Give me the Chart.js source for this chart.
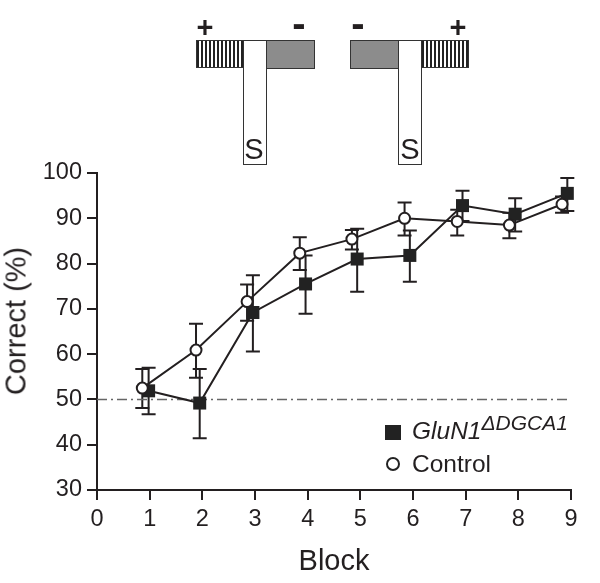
<!DOCTYPE html>
<html>
<head>
<meta charset="utf-8">
<script src="https://cdn.jsdelivr.net/npm/chart.js@4"></script>
<style>
  html, body { margin: 0; padding: 0; background: #fff; }
  #wrap { position: relative; width: 600px; height: 583px; overflow: hidden; font-family: "Liberation Sans", Arial, sans-serif; color: #231f20; }
  canvas { position: absolute; left: 0; top: 0; }
  .box { position: absolute; box-sizing: border-box; border: 1px solid #333; }
  .stripe { top: 40px; height: 28px; width: 48px; background: repeating-linear-gradient(90deg, #222 0, #222 2px, #fff 2px, #fff 4px); }
  .grey { top: 40px; height: 29px; width: 49px; background: #8c8c8c; }
  .arm { top: 40px; height: 125px; width: 24px; background: #fff; }
  .t { position: absolute; white-space: nowrap; line-height: 1; will-change: transform; }
  .plus { font-weight: bold; font-size: 29px; transform: translate(-50%, -50%); }
  .minus { font-weight: bold; font-size: 40px; transform: translate(-50%, -50%); }
  .s { font-size: 29px; transform: translate(-50%, -50%); }
  .leg { font-size: 24.5px; left: 412px; }
  sup { font-size: 21px; line-height: 0; vertical-align: 9px; }
  #ytitle { font-size: 29px; left: 16px; top: 321px; transform: translate(-50%, -50%) rotate(-90deg); }
</style>
</head>
<body>
<div id="wrap">
  <canvas id="chart" width="600" height="583"></canvas>

  <div class="box stripe" style="left:196px"></div>
  <div class="box grey" style="left:266px"></div>
  <div class="box arm" style="left:243px"></div>
  <div class="t s" style="left:254px;top:149px">S</div>
  <div class="t plus" style="left:205px;top:27px">+</div>
  <div class="t minus" style="left:299px;top:23px">-</div>

  <div class="box grey" style="left:350px"></div>
  <div class="box stripe" style="left:421px"></div>
  <div class="box arm" style="left:398px"></div>
  <div class="t s" style="left:410px;top:149px">S</div>
  <div class="t minus" style="left:358px;top:23px">-</div>
  <div class="t plus" style="left:458px;top:27px">+</div>

  <div style="position:absolute;left:385px;top:425px;width:16px;height:15px;background:#222"></div>
  <div style="position:absolute;left:386px;top:457px;width:14px;height:14px;box-sizing:border-box;border:2px solid #222;border-radius:50%;background:#fff"></div>
  <div class="t leg" style="top:419px"><i>GluN1<sup>ΔDGCA1</sup></i></div>
  <div class="t leg" style="top:452px">Control</div>
  <div class="t" id="ytitle">Correct (%)</div>
</div>

<script>
const knockoutX = [0.98, 1.95, 2.96, 3.96, 4.94, 5.94, 6.94, 7.94, 8.93];
const knockoutY = [51.9, 49.2, 69.2, 75.5, 81.0, 81.8, 92.8, 90.9, 95.5];
const knockoutHigh = [57.0, 56.7, 77.4, 81.8, 87.7, 87.3, 96.1, 94.4, 98.9];
const knockoutLow = [46.7, 41.4, 60.6, 68.9, 73.8, 76.0, 89.4, 87.1, 91.6];

const controlX = [0.86, 1.88, 2.85, 3.85, 4.84, 5.84, 6.84, 7.83, 8.83];
const controlY = [52.5, 60.9, 71.6, 82.3, 85.4, 90.0, 89.3, 88.5, 93.1];
const controlHigh = [56.7, 66.7, 75.4, 85.8, 87.4, 93.5, 91.9, 91.2, 94.8];
const controlLow = [48.1, 54.8, 67.4, 78.6, 83.1, 86.2, 86.2, 85.6, 91.2];

const chanceX = [0, 9];
const chanceY = [50, 50];

const ink = '#231f20';

function toPoints(xs, ys) {
  return xs.map((x, i) => ({ x: x, y: ys[i] }));
}

const errorBars = {
  id: 'errorBars',
  beforeDatasetsDraw(chart) {
    const ctx = chart.ctx;
    const xs = chart.scales.x;
    const ys = chart.scales.y;
    const groups = [
      [knockoutX, knockoutHigh, knockoutLow],
      [controlX, controlHigh, controlLow],
    ];
    ctx.save();
    ctx.strokeStyle = ink;
    ctx.lineWidth = 2;
    groups.forEach(([x, high, low]) => {
      x.forEach((val, i) => {
        const px = xs.getPixelForValue(val);
        const top = ys.getPixelForValue(high[i]);
        const bottom = ys.getPixelForValue(low[i]);
        ctx.beginPath();
        ctx.moveTo(px, top);
        ctx.lineTo(px, bottom);
        ctx.moveTo(px - 7, top);
        ctx.lineTo(px + 7, top);
        ctx.moveTo(px - 7, bottom);
        ctx.lineTo(px + 7, bottom);
        ctx.stroke();
      });
    });
    ctx.restore();
  },
};

new Chart(document.getElementById('chart'), {
  type: 'scatter',
  data: {
    datasets: [
      {
        data: toPoints(controlX, controlY),
        showLine: true,
        borderColor: ink,
        borderWidth: 2,
        backgroundColor: '#fff',
        pointStyle: 'circle',
        pointRadius: 5.5,
        pointBorderWidth: 2,
        clip: false,
        order: 1,
      },
      {
        data: toPoints(knockoutX, knockoutY),
        showLine: true,
        borderColor: ink,
        borderWidth: 2,
        backgroundColor: '#222',
        pointStyle: 'rect',
        pointRadius: 9.2,
        pointBorderWidth: 0,
        clip: false,
        order: 2,
      },
      {
        data: toPoints(chanceX, chanceY),
        showLine: true,
        borderColor: '#666',
        borderWidth: 1.5,
        borderDash: [10, 4, 2, 4],
        pointRadius: 0,
        order: 3,
      },
    ],
  },
  options: {
    responsive: false,
    animation: false,
    layout: { padding: { top: 173, right: 29, left: 0, bottom: 0 } },
    plugins: { legend: { display: false }, tooltip: { enabled: false } },
    scales: {
      x: {
        type: 'linear',
        min: 0,
        max: 9,
        afterFit(scale) { scale.height = 93; },
        border: { color: ink, width: 2 },
        grid: { drawOnChartArea: false, color: ink, lineWidth: 2, tickLength: 10 },
        ticks: { stepSize: 1, color: ink, padding: 5, maxRotation: 0, font: { family: 'Liberation Sans', size: 23.5 } },
        title: { display: true, text: 'Block', color: ink, padding: { bottom: 4 }, font: { family: 'Liberation Sans', size: 29 } },
      },
      y: {
        min: 30,
        max: 100,
        afterFit(scale) { scale.width = 97; },
        border: { color: ink, width: 2 },
        grid: { drawOnChartArea: false, color: ink, lineWidth: 2, tickLength: 10 },
        ticks: { stepSize: 10, color: ink, padding: 5, font: { family: 'Liberation Sans', size: 23.5 } },
        title: { display: false },
      },
    },
  },
  plugins: [errorBars],
});
</script>
</body>
</html>
